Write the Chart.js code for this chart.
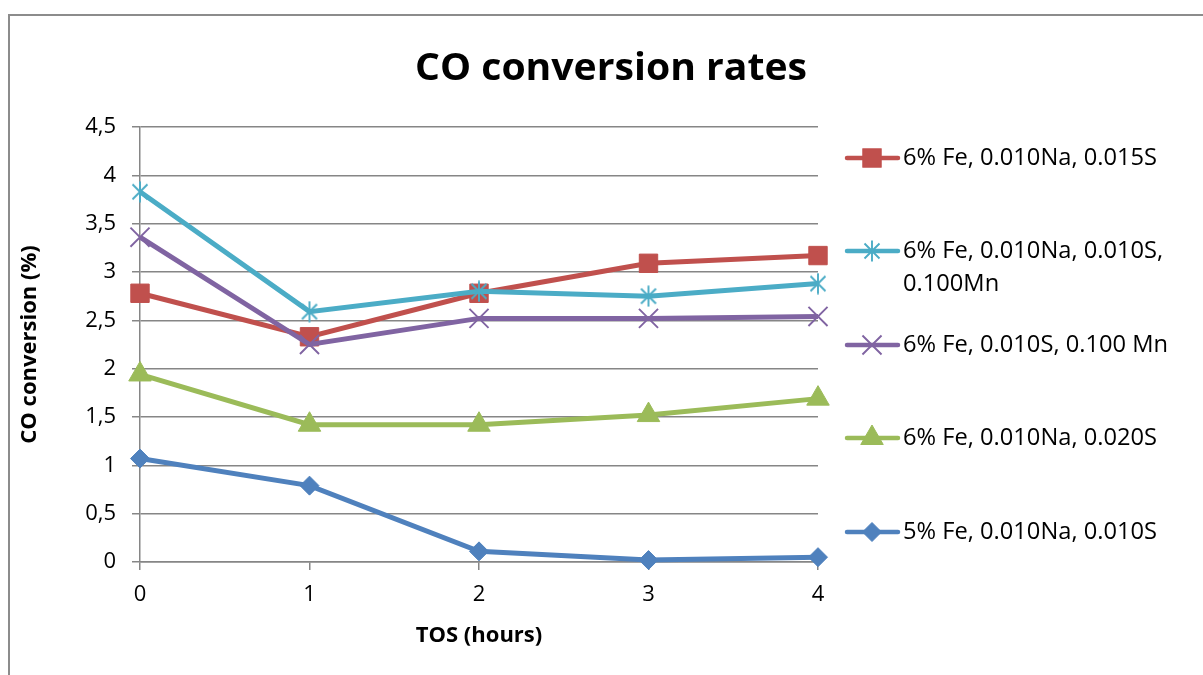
<!DOCTYPE html>
<html>
<head>
<meta charset="utf-8">
<script src="https://cdn.jsdelivr.net/npm/chart.js@4/dist/chart.umd.min.js"></script>
<style>
  html, body { margin: 0; padding: 0; background: #fff; overflow: hidden; }
  #wrap { position: relative; width: 1203px; height: 675px; }
  #frame { position: absolute; left: 8px; top: 14px; width: 1400px; height: 900px;
           border: 2px solid #8c8c8c; box-sizing: border-box; }
  canvas { position: absolute; left: 0; top: 0; }
</style>
</head>
<body>
<div id="wrap">
  <div id="frame"></div>
  <canvas id="chart" width="1203" height="675"></canvas>
</div>
<script>
// Time on stream (hours)
const hours = ['0', '1', '2', '3', '4'];
// Y-axis tick labels, decimal comma
const yTickLabels = ['0', '0,5', '1', '1,5', '2', '2,5', '3', '3,5', '4', '4,5'];

// Catalyst compositions (legend order)
const catalystNames = [
  ['6% Fe, 0.010Na, 0.015S'],
  ['6% Fe, 0.010Na, 0.010S,', '0.100Mn'],
  ['6% Fe, 0.010S, 0.100 Mn'],
  ['6% Fe, 0.010Na, 0.020S'],
  ['5% Fe, 0.010Na, 0.010S']
];

// CO conversion (%) per catalyst
const fe6Na010S015 = [2.78, 2.33, 2.78, 3.09, 3.17];
const fe6Na010S010Mn100 = [3.83, 2.59, 2.80, 2.75, 2.88];
const fe6S010Mn100 = [3.36, 2.25, 2.52, 2.52, 2.54];
const fe6Na010S020 = [1.94, 1.42, 1.42, 1.52, 1.69];
const fe5Na010S010 = [1.07, 0.79, 0.11, 0.02, 0.05];

const RED = '#C0504D', CYAN = '#4BACC6', PURPLE = '#8064A2', GREEN = '#9BBB59', BLUE = '#4F81BD';
const FONT = '"Open Sans", "Noto Sans", sans-serif';
const LINE_W = 5;

// Asterisk marker: an X with a vertical bar
function makeAsterisk(color) {
  const c = document.createElement('canvas');
  c.width = 22; c.height = 22;
  const g = c.getContext('2d');
  g.strokeStyle = color;
  g.lineWidth = 1.9;
  g.beginPath();
  g.moveTo(3.5, 3.5); g.lineTo(18.5, 18.5);
  g.moveTo(18.5, 3.5); g.lineTo(3.5, 18.5);
  g.moveTo(11, 0.5); g.lineTo(11, 21.5);
  g.stroke();
  return c;
}
const asterisk = makeAsterisk(CYAN);

function series(label, data, color, style, radius, order, extra) {
  return Object.assign({
    label: label,
    data: data,
    borderColor: color,
    backgroundColor: color,
    borderWidth: LINE_W,
    tension: 0,
    pointStyle: style,
    pointRadius: radius,
    pointHoverRadius: radius,
    pointBackgroundColor: color,
    pointBorderColor: color,
    pointBorderWidth: 1,
    clip: false,
    order: order
  }, extra || {});
}

const datasets = [
  series(catalystNames[0], fe6Na010S015, RED, 'rect', 13, 2),
  series(catalystNames[1], fe6Na010S010Mn100, CYAN, asterisk, 11, 0),
  series(catalystNames[2], fe6S010Mn100, PURPLE, 'crossRot', 13.5, 1, { pointBorderWidth: 1.9 }),
  series(catalystNames[3], fe6Na010S020, GREEN, 'triangle', 13, 3),
  series(catalystNames[4], fe5Na010S010, BLUE, 'rectRot', 9.5, 4)
];

// Marker for legend samples
function drawMarker(ctx, ds, x, y) {
  const r = ds.pointRadius;
  const s = ds.pointStyle;
  ctx.save();
  ctx.fillStyle = ds.pointBackgroundColor;
  ctx.strokeStyle = ds.pointBorderColor;
  ctx.lineWidth = ds.pointBorderWidth;
  if (s instanceof HTMLCanvasElement) {
    ctx.drawImage(s, x - s.width / 2, y - s.height / 2);
  } else if (s === 'rect') {
    const h = r * Math.SQRT1_2;
    ctx.fillRect(x - h, y - h, 2 * h, 2 * h);
    ctx.strokeRect(x - h, y - h, 2 * h, 2 * h);
  } else if (s === 'rectRot') {
    ctx.beginPath();
    ctx.moveTo(x - r, y); ctx.lineTo(x, y - r); ctx.lineTo(x + r, y); ctx.lineTo(x, y + r);
    ctx.closePath(); ctx.fill(); ctx.stroke();
  } else if (s === 'triangle') {
    ctx.beginPath();
    ctx.moveTo(x, y - r);
    ctx.lineTo(x + r * Math.sin(Math.PI / 3), y + r / 2);
    ctx.lineTo(x - r * Math.sin(Math.PI / 3), y + r / 2);
    ctx.closePath(); ctx.fill(); ctx.stroke();
  } else if (s === 'crossRot') {
    const d = r * Math.SQRT1_2;
    ctx.beginPath();
    ctx.moveTo(x - d, y - d); ctx.lineTo(x + d, y + d);
    ctx.moveTo(x + d, y - d); ctx.lineTo(x - d, y + d);
    ctx.stroke();
  }
  ctx.restore();
}

// Text squeezed or widened to a given width
function fittedText(ctx, text, x, y, font, width, align) {
  ctx.save();
  ctx.font = font;
  ctx.fillStyle = '#000';
  ctx.textBaseline = 'middle';
  ctx.textAlign = 'left';
  const w = ctx.measureText(text).width;
  const k = width / w;
  const left = align === 'center' ? x - width / 2 : x;
  ctx.translate(left, y);
  ctx.scale(k, 1);
  ctx.fillText(text, 0, 0);
  ctx.restore();
}

// Title and right-hand legend
const decorations = {
  id: 'decorations',
  afterDraw(chart) {
    const ctx = chart.ctx;
    fittedText(ctx, 'CO conversion rates', 611, 69, 'bold 38px ' + FONT, 392, 'center');

    const rowY = [158, 251, 345, 438, 532];
    const legendFont = '24px ' + FONT;
    ctx.save();
    ctx.font = legendFont;
    const k = 254 / ctx.measureText(catalystNames[0][0]).width;
    ctx.restore();
    catalystNames.forEach((lines, i) => {
      const ds = chart.data.datasets[i];
      const y = rowY[i];
      ctx.save();
      ctx.strokeStyle = ds.borderColor;
      ctx.lineWidth = 4.5;
      ctx.lineCap = 'round';
      ctx.beginPath();
      ctx.moveTo(847, y);
      ctx.lineTo(898, y);
      ctx.stroke();
      ctx.restore();
      drawMarker(ctx, ds, 872, y);
      lines.forEach((t, j) => {
        ctx.save();
        ctx.font = legendFont;
        const w = ctx.measureText(t).width * k;
        ctx.restore();
        fittedText(ctx, t, 903, y + j * 33, legendFont, w, 'left');
      });
    });
  }
};

new Chart(document.getElementById('chart'), {
  type: 'line',
  data: { labels: hours, datasets: datasets },
  plugins: [decorations],
  options: {
    responsive: false,
    animation: false,
    devicePixelRatio: 1,
    layout: { padding: { left: 8, top: 127, right: 385, bottom: 0 } },
    plugins: {
      legend: { display: false },
      tooltip: { enabled: false },
      title: { display: false }
    },
    scales: {
      x: {
        type: 'category',
        offset: false,
        grid: { drawOnChartArea: false, drawTicks: true, tickLength: 8, color: '#868686', lineWidth: 1.5 },
        border: { color: '#868686', width: 1.5 },
        ticks: { color: '#000', font: { family: FONT, size: 22 }, padding: 12, maxRotation: 0 },
        title: { display: true, text: 'TOS (hours)', color: '#000',
                 font: { family: FONT, size: 22, weight: 'bold' }, padding: { top: 0, bottom: 26 } },
        afterFit(scale) { scale.height = 113; }
      },
      y: {
        min: 0,
        max: 4.5,
        ticks: {
          stepSize: 0.5,
          color: '#000',
          font: { family: FONT, size: 22 },
          padding: 16,
          callback: (v) => yTickLabels[Math.round(v * 2)]
        },
        grid: { color: '#868686', lineWidth: 1.5, tickLength: 8 },
        border: { color: '#868686', width: 1.5 },
        title: { display: true, text: 'CO conversion (%)', color: '#000',
                 font: { family: FONT, size: 22, weight: 'bold' }, padding: { top: 9, bottom: 0 } },
        afterFit(scale) { scale.width = 132; }
      }
    }
  }
});
</script>
</body>
</html>
